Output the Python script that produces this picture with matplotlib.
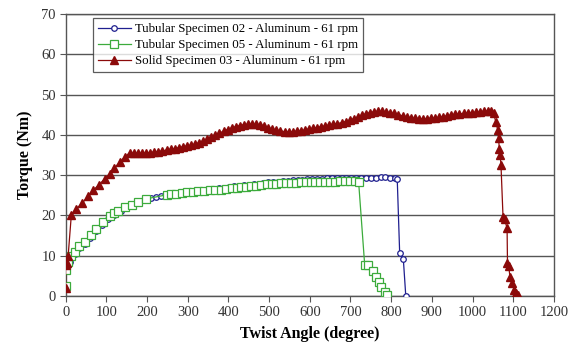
import matplotlib
matplotlib.use("Agg")
import matplotlib.pyplot as plt

plt.rcParams["font.family"] = ["Liberation Serif", "DejaVu Serif"]

# Tubular Specimen 02 (blue circles)
tube02_x = [0, 0, 5, 10, 22, 34, 47, 60, 75, 90, 105, 120, 135, 150, 165, 180, 195,
            210, 222, 234, 246, 258, 270, 282, 294, 306, 318, 330, 342, 354, 366, 378,
            390, 402, 414, 426, 438, 450, 462, 474, 486, 498, 510, 522, 534, 546, 558,
            570, 582, 594, 606, 618, 630, 642, 654, 666, 678, 690, 702, 714, 726, 738,
            750, 762, 774, 786, 798, 810, 815, 821, 830, 836]
tube02_t = [2.0, 6.8, 7.8, 8.5, 10.3, 11.8, 13.0, 14.3, 16.0, 17.6, 19.0, 20.2, 21.2,
            22.0, 22.8, 23.4, 23.9, 24.3, 24.6, 24.9, 25.1, 25.3, 25.5, 25.6, 25.7, 25.9,
            26.0, 26.1, 26.3, 26.4, 26.6, 26.7, 26.9, 27.0, 27.2, 27.3, 27.5, 27.6, 27.8,
            27.9, 28.1, 28.2, 28.3, 28.4, 28.5, 28.6, 28.7, 28.8, 28.9, 29.0, 29.0, 29.1,
            29.1, 29.2, 29.2, 29.2, 29.3, 29.3, 29.3, 29.4, 29.4, 29.4, 29.4, 29.4, 29.5,
            29.5, 29.4, 29.3, 29.0, 10.6, 9.1, 0.0]

# Tubular Specimen 05 (green squares)
tube05_x = [0, 0, 5, 12, 22, 34, 47, 63, 75, 92, 108, 120, 129, 145, 162, 178, 198,
            248, 260, 272, 285, 298, 313, 326, 340, 354, 368, 382, 395, 408, 420, 432,
            444, 456, 469, 481, 494, 506, 518, 530, 542, 554, 566, 578, 590, 602, 614,
            626, 638, 650, 662, 674, 686, 698, 710, 720, 735, 744, 756, 764, 770, 776,
            784, 790]
tube05_t = [2.5, 6.5, 8.5, 10.0, 11.0, 12.3, 13.5, 15.2, 16.6, 18.4, 19.8, 20.6, 21.2,
            22.0, 22.7, 23.4, 24.1, 25.1, 25.3, 25.4, 25.6, 25.7, 25.8, 26.0, 26.1, 26.2,
            26.3, 26.4, 26.5, 26.7, 26.9, 27.0, 27.1, 27.3, 27.4, 27.5, 27.7, 27.8, 27.9,
            28.0, 28.0, 28.1, 28.1, 28.2, 28.2, 28.3, 28.3, 28.3, 28.4, 28.4, 28.4, 28.5,
            28.5, 28.5, 28.5, 28.4, 7.7, 7.6, 6.3, 4.7, 3.5, 2.2, 0.9, 0.2]

# Solid Specimen 03 (dark red triangles)
solid03_x = [0, 0, 3, 6, 14, 26, 41, 55, 67, 82, 96, 108, 120, 133, 145, 157, 168, 178,
             188, 198, 208, 218, 228, 238, 248, 258, 268, 278, 288, 298, 308, 318, 328,
             338, 348, 358, 368, 378, 388, 398, 408, 418, 428, 438, 448, 458, 468, 478,
             488, 498, 508, 518, 528, 538, 548, 558, 568, 578, 588, 598, 608, 618, 628,
             638, 648, 658, 668, 678, 688, 698, 708, 718, 728, 738, 748, 758, 768, 778,
             788, 798, 808, 818, 828, 838, 848, 858, 868, 878, 888, 898, 908, 918, 928,
             938, 948, 958, 968, 978, 988, 998, 1008, 1018, 1028, 1038, 1045, 1052, 1057,
             1062, 1064, 1066, 1068, 1070, 1075, 1079, 1085, 1086, 1089, 1092, 1097, 1103,
             1108, 1113]
solid03_t = [1.9, 7.6, 8.3, 9.8, 20.2, 21.6, 23.1, 24.7, 26.2, 27.6, 29.1, 30.3, 31.8,
             33.2, 34.5, 35.5, 35.5, 35.4, 35.4, 35.5, 35.6, 35.7, 35.8, 36.0, 36.2, 36.4,
             36.6, 36.8, 37.0, 37.2, 37.4, 37.7, 38.0, 38.4, 38.9, 39.4, 39.9, 40.4, 40.9,
             41.3, 41.7, 42.0, 42.3, 42.5, 42.6, 42.6, 42.6, 42.5, 42.2, 41.8, 41.4, 41.1,
             40.9, 40.8, 40.8, 40.8, 40.9, 41.0, 41.2, 41.4, 41.6, 41.8, 42.0, 42.2, 42.4,
             42.6, 42.8, 43.0, 43.3, 43.6, 44.0, 44.4, 44.8, 45.2, 45.5, 45.7, 45.8, 45.8,
             45.7, 45.5, 45.3, 45.0, 44.7, 44.4, 44.2, 44.1, 44.0, 44.0, 44.0, 44.1, 44.2,
             44.3, 44.5, 44.7, 44.9, 45.1, 45.2, 45.3, 45.4, 45.5, 45.6, 45.7, 45.8, 45.9,
             45.9, 45.3, 43.3, 41.2, 39.1, 36.6, 35.0, 32.5, 19.7, 19.0, 16.8, 8.1, 7.4,
             4.8, 3.1, 1.5, 0.7, 0.3]

labels = ["Tubular Specimen 02 - Aluminum - 61 rpm",
          "Tubular Specimen 05 - Aluminum - 61 rpm",
          "Solid Specimen 03 - Aluminum - 61 rpm"]

fig = plt.figure(figsize=(5.71, 3.49), dpi=100)
ax = fig.add_axes([0.115, 0.152, 0.855, 0.808])

ax.plot(tube02_x, tube02_t, color="#1f1f8f", lw=0.9, marker="o", ms=4,
        mfc="white", mec="#1f1f8f", mew=0.9, label=labels[0], zorder=3)
ax.plot(tube05_x, tube05_t, color="#3cab3c", lw=0.9, marker="s", ms=5.5,
        mfc="white", mec="#3cab3c", mew=0.9, label=labels[1], zorder=4)
ax.plot(solid03_x, solid03_t, color="#8b0a0a", lw=0.9, marker="^", ms=5.5,
        mfc="#8b0a0a", mec="#8b0a0a", label=labels[2], zorder=5)

ax.set_xlim(0, 1200)
ax.set_ylim(0, 70)
ax.set_xticks(range(0, 1201, 100))
ax.set_yticks(range(0, 71, 10))
ax.yaxis.grid(True, color="#555555", lw=1.0)
ax.set_axisbelow(True)
for s in ax.spines.values():
    s.set_color("#555555")
    s.set_linewidth(1.0)
ax.tick_params(direction="out", length=4, color="#555555", labelsize=10.5,
               labelcolor="#333333", pad=3)

ax.set_xlabel("Twist Angle (degree)", fontsize=11.5, fontweight="bold", labelpad=5)
ax.set_ylabel("Torque (Nm)", fontsize=11.5, fontweight="bold", labelpad=6)

leg = ax.legend(loc="upper left", bbox_to_anchor=(0.055, 0.985), fontsize=9.3,
                frameon=True, fancybox=False, edgecolor="#333333",
                handlelength=2.6, borderpad=0.4, labelspacing=0.3,
                handletextpad=0.3, borderaxespad=0)
leg.get_frame().set_linewidth(0.9)

fig.savefig("out.png", dpi=100)
